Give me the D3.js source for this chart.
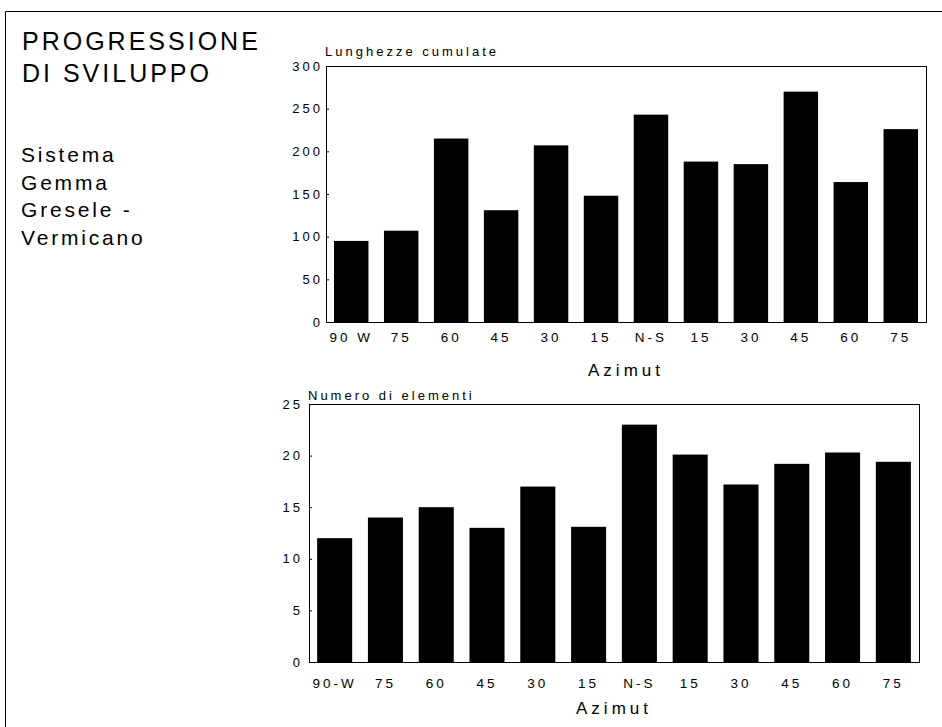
<!DOCTYPE html>
<html>
<head>
<meta charset="utf-8">
<script src="https://cdn.jsdelivr.net/npm/d3@7"></script>
<style>
  body { margin: 0; background: #fff; }
  text { font-family: "Liberation Sans", Arial, sans-serif; fill: #000; }
</style>
</head>
<body>
<div id="chart"></div>
<script>
const azimutTop = ["90 W", "75", "60", "45", "30", "15", "N-S", "15", "30", "45", "60", "75"];
const azimutBottom = ["90-W", "75", "60", "45", "30", "15", "N-S", "15", "30", "45", "60", "75"];
const lunghezze = [95, 107, 215, 131, 207, 148, 243, 188, 185, 270, 164, 226];
const numero = [12, 14, 15, 13, 17, 13.1, 23, 20.1, 17.2, 19.2, 20.3, 19.4];
const ticksTop = [0, 50, 100, 150, 200, 250, 300];
const ticksBottom = [0, 5, 10, 15, 20, 25];
const titleLines = ["PROGRESSIONE", "DI SVILUPPO"];
const subtitleLines = ["Sistema", "Gemma", "Gresele -", "Vermicano"];

function main() {
    const svg = d3.select("#chart").append("svg")
        .attr("width", 942)
        .attr("height", 727);

    // page frame (left and top edges)
    svg.append("path")
        .attr("d", "M5.5,727 V11.5 H942")
        .attr("fill", "none")
        .attr("stroke", "#000")
        .attr("stroke-width", 1);

    svg.append("g").selectAll("text")
        .data(titleLines)
        .join("text")
        .attr("x", 22)
        .attr("y", (d, i) => 50 + i * 32)
        .attr("font-size", "25px")
        .attr("letter-spacing", "3px")
        .text(d => d);

    svg.append("g").selectAll("text")
        .data(subtitleLines)
        .join("text")
        .attr("x", 21)
        .attr("y", (d, i) => 162 + i * 27.6)
        .attr("font-size", "21px")
        .attr("letter-spacing", "2.8px")
        .text(d => d);

    drawPanel({
        left: 326, right: 926, top: 66, bottom: 322,
        values: lunghezze, labels: azimutTop, ticks: ticksTop, max: 300,
        title: "Lunghezze cumulate", titleX: 325, titleY: 56,
        yPad: 3, labelY: 342, azimutY: 376
    });

    drawPanel({
        left: 309, right: 919, top: 404, bottom: 662,
        values: numero, labels: azimutBottom, ticks: ticksBottom, max: 25,
        title: "Numero di elementi", titleX: 308, titleY: 400,
        yPad: 6, labelY: 688, azimutY: 714
    });

    function drawPanel(p) {
        const g = svg.append("g");
        const idx = d3.range(p.values.length);

        const x = d3.scaleBand()
            .domain(idx)
            .range([p.left, p.right])
            .paddingInner(0.31)
            .paddingOuter(0.16);

        const y = d3.scaleLinear()
            .domain([0, p.max])
            .range([p.bottom, p.top]);

        g.selectAll("rect.bar")
            .data(idx)
            .join("rect")
            .attr("class", "bar")
            .attr("x", i => x(i))
            .attr("y", i => y(p.values[i]))
            .attr("width", x.bandwidth())
            .attr("height", i => y(0) - y(p.values[i]))
            .attr("fill", "#000");

        g.append("rect")
            .attr("x", p.left + 0.5)
            .attr("y", p.top + 0.5)
            .attr("width", p.right - p.left)
            .attr("height", p.bottom - p.top)
            .attr("fill", "none")
            .attr("stroke", "#000")
            .attr("stroke-width", 1);

        const yAxis = g.append("g")
            .attr("transform", "translate(" + p.left + ",0)")
            .call(d3.axisLeft(y).tickValues(p.ticks).tickSize(-3).tickPadding(p.yPad));
        yAxis.select(".domain").remove();
        yAxis.selectAll("text")
            .attr("font-size", "13px")
            .attr("letter-spacing", "3px")
            .attr("font-family", "Liberation Sans, Arial, sans-serif");

        const xAxis = g.append("g")
            .attr("transform", "translate(0," + p.bottom + ")")
            .call(d3.axisBottom(x).tickFormat(i => p.labels[i]).tickSize(0).tickPadding(p.labelY - p.bottom - 10));
        xAxis.select(".domain").remove();
        xAxis.selectAll("text")
            .attr("font-size", "13.5px")
            .attr("letter-spacing", "3px")
            .attr("font-family", "Liberation Sans, Arial, sans-serif");

        g.append("text")
            .attr("x", p.titleX)
            .attr("y", p.titleY)
            .attr("font-size", "13px")
            .attr("letter-spacing", "3px")
            .text(p.title);

        g.append("text")
            .attr("x", (p.left + p.right) / 2)
            .attr("y", p.azimutY)
            .attr("text-anchor", "middle")
            .attr("font-size", "17px")
            .attr("letter-spacing", "4px")
            .text("Azimut");
    }
}
main();
</script>
</body>
</html>
